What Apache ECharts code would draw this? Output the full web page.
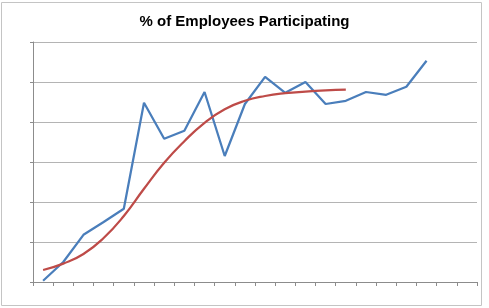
<!DOCTYPE html>
<html>
<head>
<meta charset="utf-8">
<script src="https://cdn.jsdelivr.net/npm/echarts@6/dist/echarts.min.js"></script>
<style>
  html, body { margin: 0; padding: 0; background: #fff; }
  #chart { width: 489px; height: 308px; }
</style>
</head>
<body>
<div id="chart"></div>
<script>
// 22 periods on the x axis (no labels shown in the original)
const categories = ['1', '2', '3', '4', '5', '6', '7', '8', '9', '10', '11',
  '12', '13', '14', '15', '16', '17', '18', '19', '20', '21', '22']

// actual participation
const participation = [0.3, 5, 11.8, 15, 18.3, 44.8, 35.8, 37.8, 47.5, 31.5,
  44.5, 51.3, 47.3, 50, 44.5, 45.3, 47.5, 46.8, 48.8, 55.3]

// fitted trend curve
const trend = [3, 4.6, 7, 11, 16.5, 23.3, 29.8, 35.2, 39.8, 43.2, 45.3, 46.5,
  47.2, 47.6, 47.9, 48.1]

const chart = echarts.init(document.getElementById('chart'))

const option = {
  animation: false,
  title: {
    text: '% of Employees Participating',
    left: 'center',
    top: 9,
    textStyle: {
      fontFamily: 'Liberation Sans',
      fontSize: 15,
      fontWeight: 'bold',
      color: '#000'
    }
  },
  graphic: [
    {
      type: 'rect',
      shape: { x: 1.5, y: 2.5, width: 480, height: 303 },
      style: { fill: 'none', stroke: '#c4c4c4', lineWidth: 1 },
      silent: true
    }
  ],
  grid: {
    left: 33,
    right: 12,
    top: 42,
    bottom: 26
  },
  xAxis: {
    type: 'category',
    data: categories,
    boundaryGap: true,
    axisLine: { lineStyle: { color: '#8c8c8c', width: 1 } },
    axisTick: { show: true, length: 4, lineStyle: { color: '#8c8c8c' } },
    axisLabel: { show: false }
  },
  yAxis: {
    type: 'value',
    min: 0,
    max: 60,
    interval: 10,
    axisLine: { show: true, lineStyle: { color: '#8c8c8c', width: 1 } },
    axisTick: { show: true, length: 3, lineStyle: { color: '#8c8c8c' } },
    axisLabel: { show: false },
    splitLine: { lineStyle: { color: '#b4b4b4', width: 1 } }
  },
  series: [
    {
      name: 'Participation',
      type: 'line',
      data: participation,
      symbol: 'none',
      lineStyle: { color: '#4a7ebb', width: 2.25 },
      z: 2
    },
    {
      name: 'Trend',
      type: 'line',
      data: trend,
      smooth: 0.5,
      symbol: 'none',
      lineStyle: { color: '#be4b48', width: 2.25 },
      z: 3
    }
  ]
}

chart.setOption(option)
</script>
</body>
</html>
